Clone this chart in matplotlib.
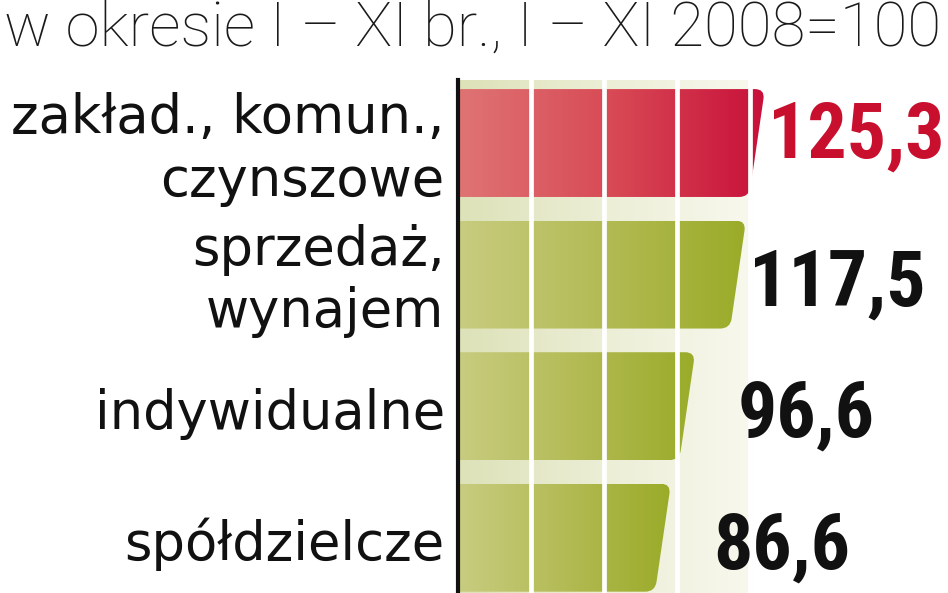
import numpy as np
import matplotlib
matplotlib.use('Agg')
import matplotlib.pyplot as plt
from matplotlib.path import Path
from matplotlib.patches import PathPatch
from matplotlib.colors import LinearSegmentedColormap

# data
categories = ['zakład., komun.,\nczynszowe', 'sprzedaż,\nwynajem', 'indywidualne', 'spółdzielcze']
values = [125.3, 117.5, 96.6, 86.6]
value_labels = ['125,3', '117,5', '96,6', '86,6']
title = 'w okresie I – XI br., I – XI 2008=100'
grid_ticks = [30, 60, 90, 120]

W, H = 948, 593
fig = plt.figure(figsize=(W / 100, H / 100), dpi=100)
fig.patch.set_facecolor('white')

ax_left, ax_top = 458, 80
ax = fig.add_axes([ax_left / W, 0, (W - ax_left) / W, (H - ax_top) / H])
px_per_unit = 2.43
xmax = (W - ax_left) / px_per_unit
ax.set_facecolor('none')
for s in ['top', 'right', 'bottom']:
    ax.spines[s].set_visible(False)
ax.spines['left'].set_linewidth(3)
ax.spines['left'].set_color('#111111')
ax.spines['left'].set_zorder(10)
ax.set_xticks([])
ax.set_yticks([])

# panel background
panel_cmap = LinearSegmentedColormap.from_list('panel', ['#dde2b8', '#eceed6', '#f8f8ee'])
grad = np.linspace(0, 1, 256).reshape(1, -1)
ax.imshow(grad, cmap=panel_cmap, extent=(0, 121, 3.42, -0.479), aspect='auto', zorder=0)

green_cmap = LinearSegmentedColormap.from_list('g', ['#c8cc80', '#b3bb55', '#9aab28'])
red_cmap = LinearSegmentedColormap.from_list('r', ['#df7474', '#d84a55', '#c8103a'])

hh = 0.41
sy = 131.5
slant = 6.5
r = 10


def bar_path(v, c):
    top, bot = c - hh, c + hh
    xt, xb = v + 1, v + 1 - slant
    dx, dy = (xb - xt) * px_per_unit, (bot - top) * sy
    L = np.hypot(dx, dy)
    ux, uy = dx / L, dy / L
    A = (xt - r / px_per_unit, top)
    P = (xt, top)
    B = (xt + ux * r / px_per_unit, top + uy * r / sy)
    C = (xb - ux * r / px_per_unit, bot - uy * r / sy)
    Q = (xb, bot)
    D = (xb - r / px_per_unit, bot)
    verts = [(0, top), A, P, B, C, Q, D, (0, bot), (0, top)]
    codes = [Path.MOVETO, Path.LINETO, Path.CURVE3, Path.CURVE3, Path.LINETO,
             Path.CURVE3, Path.CURVE3, Path.LINETO, Path.CLOSEPOLY]
    return Path(verts, codes)


num_font = ['Roboto Condensed', 'Roboto', 'DejaVu Sans']
for i, (cat, v, lab) in enumerate(zip(categories, values, value_labels)):
    cmap = red_cmap if i == 0 else green_cmap
    patch = PathPatch(bar_path(v, i), facecolor='none', edgecolor='none')
    ax.add_patch(patch)
    im = ax.imshow(grad, cmap=cmap, extent=(0, v + 1, i + hh, i - hh), aspect='auto', zorder=2)
    im.set_clip_path(patch)
    color = '#c8102e' if i == 0 else '#111111'
    # highlighted value sits a bit higher
    dy_val = 0.11 if i == 0 else 0.235
    ax.text(v + 75, i + dy_val, lab, ha='right', va='baseline', fontsize=56, fontweight='bold',
            family=num_font, color=color, zorder=8)
    two_lines = '\n' in cat
    dy_cat = 0.40 if two_lines else 0.17
    ax.text(-5.5, i + dy_cat, cat, ha='right', va='baseline', fontsize=38, linespacing=1.25,
            family=['DejaVu Sans'], color='#111111', multialignment='right', zorder=8)

for g in grid_ticks:
    ax.axvline(g, color='white', lw=3.4, zorder=5)

ax.set_xlim(0, xmax)
ax.set_ylim(3.42, -0.479)

fig.text(4 / W, 1 - 46 / H, title, ha='left', va='baseline', fontsize=44.5, fontweight='light',
         family=['Roboto', 'DejaVu Sans'], color='#1a1a1a')

fig.savefig('out.png', dpi=100, facecolor='white')
